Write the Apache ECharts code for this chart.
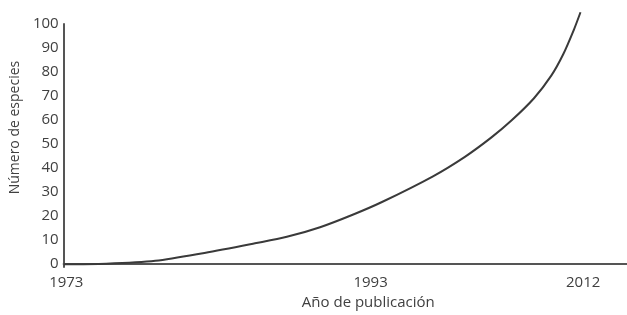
<!DOCTYPE html>
<html>
<head>
<meta charset="utf-8">
<script src="https://cdn.jsdelivr.net/npm/echarts@6/dist/echarts.min.js"></script>
<style>
html,body{margin:0;padding:0;background:#fff;}
#chart{width:627px;height:315px;}
</style>
</head>
<body>
<div id="chart"></div>
<script>
// datos
var years = [1973, 1976.2, 1979.9, 1983.6, 1987.4, 1989.8, 1992.3, 1994.8, 1997.0, 2000.8, 2003.2, 2005.2, 2006.7, 2008.4, 2009.7, 2010.6, 2011.4, 2011.9];
var especies = [0, 0.2, 1.4, 4.7, 8.7, 11.4, 15.4, 20.7, 26.0, 36.6, 44.7, 52.8, 59.8, 69.1, 78.5, 87.4, 97.6, 104.9];
// posiciones de las etiquetas del eje x y su texto
var xTickPos = [1973.2, 1996.1, 2012.1];
var xTickLabels = ['1973', '1993', '2012'];
var yTicks = [0, 10, 20, 30, 40, 50, 60, 70, 80, 90, 100];

var chart = echarts.init(document.getElementById('chart'));
var txt = '#404040';
var font = 'Open Sans';

var option = {
	backgroundColor: '#fff',
	animation: false,
	grid: {
		left: 57,
		right: 0,
		top: 24,
		bottom: 42,
		containLabel: false
	},
	xAxis: {
		type: 'value',
		min: 1973,
		max: 2015.4,
		name: 'Año de publicación',
		nameLocation: 'middle',
		nameGap: 27,
		nameTextStyle: {
			color: txt,
			fontSize: 15,
			fontFamily: font,
			padding: [0, 0, 0, 46]
		},
		axisLine: { lineStyle: { color: '#555', width: 2 } },
		axisTick: { show: false },
		splitLine: { show: false },
		axisLabel: {
			customValues: xTickPos,
			color: txt,
			fontSize: 15,
			fontFamily: font,
			margin: 8,
			formatter: function (v) {
				var i = xTickPos.indexOf(v);
				return i >= 0 ? xTickLabels[i] : '';
			}
		}
	},
	yAxis: {
		type: 'value',
		min: -1.2,
		max: 100,
		name: 'Número de especies',
		nameLocation: 'middle',
		nameGap: 30,
		nameTextStyle: {
			color: txt,
			fontSize: 14,
			fontFamily: font,
			padding: [0, 0, 0, 36]
		},
		axisLine: { show: true, lineStyle: { color: '#555', width: 2 } },
		axisTick: { show: false },
		splitLine: { show: false },
		axisLabel: {
			customValues: yTicks,
			color: txt,
			fontSize: 15,
			fontFamily: font,
			margin: 5
		}
	},
	series: [{
		type: 'line',
		data: years.map(function (y, i) { return [y, especies[i]]; }),
		smooth: 0.3,
		clip: false,
		showSymbol: false,
		lineStyle: { color: '#3a3a3a', width: 2 }
	}]
};
chart.setOption(option);
</script>
</body>
</html>
